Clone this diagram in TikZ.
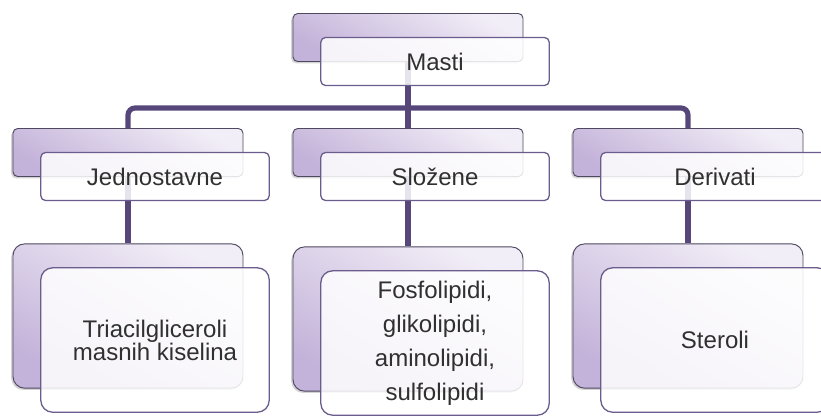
\documentclass[tikz,border=0pt]{standalone}
\usepackage{fontspec}
\setmainfont{Liberation Sans}
\usetikzlibrary{positioning,shadows,backgrounds}
\definecolor{lavlight}{HTML}{F2EEF7}
\definecolor{lavdark}{HTML}{C3B2D9}
\definecolor{backline}{HTML}{4E4860}
\definecolor{frontline}{HTML}{6A5C8C}
\definecolor{connline}{HTML}{56467A}
\definecolor{textgray}{HTML}{303030}

\tikzset{
  backbox/.style={draw=backline, line width=0.8pt, rounded corners=4pt,
    top color=lavlight, bottom color=lavdark, shading angle=-30,
    minimum width=6.9cm, minimum height=1.44cm,
    drop shadow={shadow xshift=-1.5pt, shadow yshift=-1.5pt, opacity=0.35}},
  frontbox/.style={draw=frontline, line width=1.1pt, rounded corners=4pt,
    fill=white, fill opacity=0.85, text opacity=1, text=textgray,
    minimum width=6.85cm, minimum height=1.44cm, align=center,
    font=\fontsize{20.5}{19.6}\selectfont},
  tallbox/.style={minimum height=4.33cm, rounded corners=10pt},
  conn/.style={draw=connline, line width=4.4pt, rounded corners=6pt},
}

\begin{document}
\begin{tikzpicture}[x=0.03cm, y=-0.03cm]
\useasboundingbox (0,0) rectangle (821,415);
% --- Top level ---
\node[backbox] (mastiB) at (408,37.5) {};
\node[frontbox] (mastiF) at ([shift={(27,24)}]mastiB.center) {Masti};

% --- Second level ---
\node[backbox] (jedB) at (128,152.5) {};
\node[frontbox] (jedF) at ([shift={(27,24)}]jedB.center) {Jednostavne};
\node[backbox] (slozB) at (408,152.5) {};
\node[frontbox] (slozF) at ([shift={(27,24)}]slozB.center) {Složene};
\node[backbox] (derB) at (688,152.5) {};
\node[frontbox] (derF) at ([shift={(27,24)}]derB.center) {Derivati};

% --- Third level ---
\node[backbox, tallbox] (triB) at (128,316) {};
\node[frontbox, tallbox] (triF) at ([shift={(27,24)}]triB.center)
  {Triacilgliceroli\\masnih kiselina};
\node[backbox, tallbox] (lipB) at (408,319) {};
\node[frontbox, tallbox, font=\fontsize{20.5}{29}\selectfont] (lipF)
  at ([shift={(27,24)}]lipB.center)
  {Fosfolipidi,\\glikolipidi,\\aminolipidi,\\sulfolipidi};
\node[backbox, tallbox] (sterB) at (688,316) {};
\node[frontbox, tallbox] (sterF) at ([shift={(27,24)}]sterB.center) {Steroli};

% --- Connectors ---
\begin{scope}[on background layer]
  \coordinate (bar) at (408,108);
  \draw[conn] (mastiB.center) -- (slozB.north);
  \draw[conn] (jedB.north) |- (bar);
  \draw[conn] (derB.north) |- (bar);
  \draw[conn] (jedB.center) -- (triB.north);
  \draw[conn] (slozB.center) -- (lipB.north);
  \draw[conn] (derB.center) -- (sterB.north);
\end{scope}
\end{tikzpicture}
\end{document}
